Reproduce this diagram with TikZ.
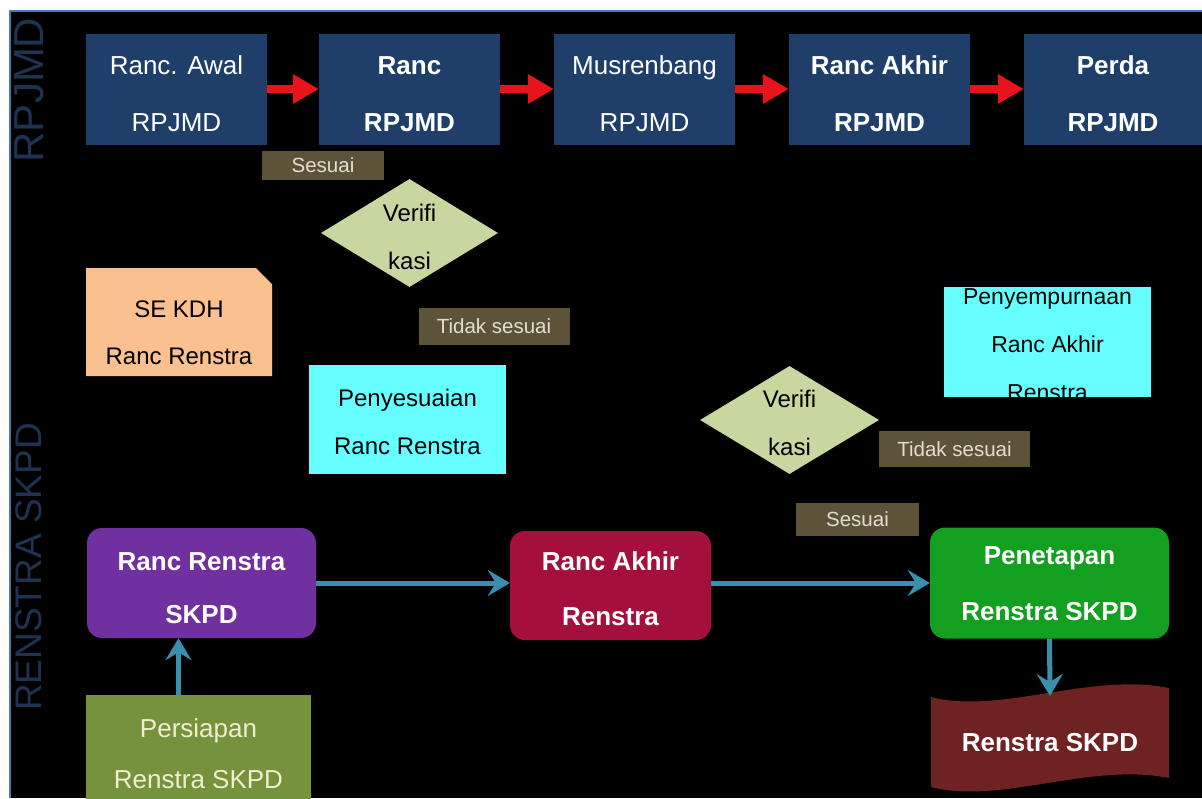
\documentclass[tikz,border=0pt]{standalone}
\usepackage{fontspec}
\setmainfont{Liberation Sans}
\usetikzlibrary{shapes.geometric,shapes.misc,arrows.meta}
\definecolor{navy}{HTML}{1F3F6A}
\definecolor{redarr}{HTML}{E8141C}
\definecolor{labbg}{HTML}{5C5339}
\definecolor{labtx}{HTML}{E2DECF}
\definecolor{dia}{HTML}{C8D7A0}
\definecolor{peach}{HTML}{FAC090}
\definecolor{cyanb}{HTML}{66FFFF}
\definecolor{purp}{HTML}{7030A0}
\definecolor{crims}{HTML}{A50F3C}
\definecolor{greenb}{HTML}{13A020}
\definecolor{oliveb}{HTML}{76923C}
\definecolor{docb}{HTML}{6E2222}
\definecolor{teal}{HTML}{3A8FAD}
\definecolor{vlab}{HTML}{1F3350}
\definecolor{bord}{HTML}{4A78B0}
\definecolor{cream}{HTML}{EEF0D0}
\newcommand{\myst}[1]{\rule{0pt}{#1}}
\begin{document}
\begin{tikzpicture}[x=1pt,y=-1pt,
  topbox/.style={fill=navy, minimum width=181pt, minimum height=111pt, inner sep=0pt,
    text=white, align=center, font=\fontsize{26}{57}\selectfont},
  lab/.style={fill=labbg, inner sep=0pt, text=labtx, font=\fontsize{20.5}{24}\selectfont},
  diashape/.style={diamond, fill=dia, inner sep=0pt},
  diatext/.style={align=center, text=black, font=\fontsize{24}{48}\selectfont},
  lightbox/.style={inner sep=0pt, text=black, align=center, font=\fontsize{24}{48}\selectfont},
  botbox/.style={rounded corners=15pt, inner sep=0pt, text=white, align=center,
    font=\bfseries\fontsize{26}{55}\selectfont},
  redarrow/.style={draw=redarr, line width=8pt, -{Triangle[length=26pt,width=28pt]}},
  tealarrow/.style={draw=teal, line width=5pt, -{Stealth[length=22pt,width=26pt,inset=8pt]}},
  vlabel/.style={rotate=90, text=vlab, inner sep=0pt}
]
\clip (0,0) rectangle (1202,798);
\fill[white] (0,0) rectangle (1202,798);
\fill[black] (10,11) rectangle (1202,798);
\draw[bord, line width=2pt] (10,798) -- (10,11) -- (1202,11);

% vertical labels
\node[vlabel, font=\fontsize{42}{42}\selectfont] (lrp) at (29,90) {RPJMD};
\node[vlabel, font=\fontsize{37}{37}\selectfont] (lrs) at (29,567) {RENSTRA SKPD};

% top row
\node[topbox] (b1) at (176.5,89) {\myst{29pt}Ranc. Awal\\RPJMD};
\node[topbox, font=\bfseries\fontsize{26}{57}\selectfont] (b2) at (409.5,89) {\myst{29pt}Ranc\\RPJMD};
\node[topbox] (b3) at (644.5,89) {\myst{29pt}Musrenbang\\RPJMD};
\node[topbox, font=\bfseries\fontsize{26}{57}\selectfont] (b4) at (879.5,89) {\myst{29pt}Ranc Akhir\\RPJMD};
\node[topbox, minimum width=178pt, font=\bfseries\fontsize{26}{57}\selectfont] (b5) at (1113,89) {\myst{29pt}Perda\\RPJMD};
\draw[redarrow] (b1.east) -- (b2.west);
\draw[redarrow] (b2.east) -- (b3.west);
\draw[redarrow] (b3.east) -- (b4.west);
\draw[redarrow] (b4.east) -- (b5.west);

% labels
\node[lab, minimum width=122pt, minimum height=29pt] (s1) at (323,165.5) {Sesuai};
\node[lab, minimum width=151pt, minimum height=37pt] (t1) at (494,326.5) {Tidak sesuai};
\node[lab, minimum width=151pt, minimum height=36pt] (t2) at (954.5,449) {Tidak sesuai};
\node[lab, minimum width=123pt, minimum height=33pt] (s2) at (857.5,519.5) {Sesuai};

% diamonds
\node[diashape, minimum width=177pt, minimum height=108pt] (d1) at (409.5,233) {};
\node[diatext] (d1t) at (409.5,237) {Verifi\\kasi};
\node[diashape, minimum width=179pt, minimum height=108pt] (d2) at (789.5,420) {};
\node[diatext] (d2t) at (789.5,423) {Verifi\\kasi};

% SE KDH
\node[chamfered rectangle, chamfered rectangle corners=north east,
  chamfered rectangle xsep=8pt, chamfered rectangle ysep=8pt,
  fill=peach, lightbox, font=\fontsize{24}{47}\selectfont,
  minimum width=186pt, minimum height=108pt] (se) at (179,322) {\myst{39pt}SE KDH\\Ranc Renstra};

% Penyesuaian
\node[lightbox, fill=cyanb, minimum width=197pt, minimum height=109pt] (pny) at (407.5,419.5) {\myst{23pt}Penyesuaian\\Ranc Renstra};

% Penyempurnaan (text clipped by its box)
\node[fill=cyanb, inner sep=0pt, minimum width=207pt, minimum height=110pt] (pen) at (1047.5,342) {};
\begin{scope}
\clip (pen.south west) rectangle (pen.north east);
\node[align=center, text=black, font=\fontsize{23}{48}\selectfont] (pent) at (1047.5,345) {Penyempurnaan\\Ranc Akhir\\Renstra};
\end{scope}

% bottom row
\node[botbox, fill=purp, font=\bfseries\fontsize{26}{53}\selectfont, minimum width=229pt, minimum height=110pt] (rr) at (201.5,583) {\myst{28pt}Ranc Renstra\\SKPD};
\node[botbox, fill=crims, minimum width=201pt, minimum height=109pt] (ra) at (610.5,585.5) {\myst{25pt}Ranc Akhir\\Renstra};
\node[botbox, fill=greenb, font=\bfseries\fontsize{26}{56}\selectfont, minimum width=239pt, minimum height=111pt] (pt) at (1049.5,583) {\myst{20pt}Penetapan\\Renstra SKPD};
\node[fill=oliveb, inner sep=0pt, minimum width=225pt, minimum height=124pt, text=cream,
  align=center, font=\fontsize{26}{51}\selectfont] (ps) at (198.5,757) {Persiapan\\Renstra SKPD\rule[-6pt]{0pt}{6pt}};

% document shape
\fill[docb] (931,697) .. controls (1000,715) and (1090,672) .. (1169,688) -- (1169,778)
  .. controls (1090,762) and (1000,805) .. (931,787) -- cycle;
\node[text=white, font=\bfseries\fontsize{26}{30}\selectfont] (doc) at (1050,743) {Renstra SKPD};
\coordinate (docTop) at (1050,696);

% teal arrows
\draw[tealarrow] (rr.east) -- (ra.west |- rr.east);
\draw[tealarrow] (ra.east |- rr.east) -- (pt.west);
\draw[tealarrow] ([xshift=-20pt]ps.north) -- ([xshift=-20pt]ps.north |- rr.south);
\draw[tealarrow] (pt.south) -- (docTop);
\end{tikzpicture}
\end{document}
